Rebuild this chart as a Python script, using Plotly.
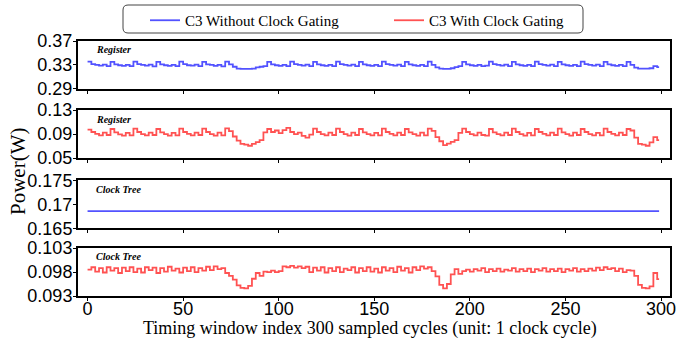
import plotly.graph_objects as go

# ---------------- data ----------------
sample_index = list(range(0, 300, 2))  # sampled cycles (every 2nd)
end_index = 299

register_no_gating = [
    0.3355, 0.3315, 0.3300, 0.3290, 0.3305, 0.3280, 0.3350, 0.3310, 0.3295, 0.3285,
    0.3300, 0.3280, 0.3355, 0.3315, 0.3300, 0.3290, 0.3305, 0.3275, 0.3350, 0.3310,
    0.3295, 0.3285, 0.3300, 0.3280, 0.3355, 0.3315, 0.3295, 0.3290, 0.3305, 0.3280,
    0.3350, 0.3310, 0.3300, 0.3285, 0.3300, 0.3275, 0.3355, 0.3310, 0.3270, 0.3240,
    0.3235, 0.3235, 0.3235, 0.3240, 0.3260, 0.3270, 0.3280, 0.3350, 0.3310, 0.3295,
    0.3285, 0.3300, 0.3280, 0.3355, 0.3315, 0.3300, 0.3290, 0.3305, 0.3280, 0.3350,
    0.3310, 0.3295, 0.3285, 0.3300, 0.3280, 0.3355, 0.3315, 0.3300, 0.3290, 0.3305,
    0.3280, 0.3350, 0.3310, 0.3295, 0.3285, 0.3300, 0.3280, 0.3355, 0.3315, 0.3300,
    0.3290, 0.3305, 0.3280, 0.3350, 0.3310, 0.3295, 0.3285, 0.3300, 0.3280, 0.3355,
    0.3300, 0.3260, 0.3240, 0.3235, 0.3235, 0.3245, 0.3265, 0.3280, 0.3350, 0.3310,
    0.3295, 0.3285, 0.3300, 0.3280, 0.3290, 0.3355, 0.3315, 0.3300, 0.3290, 0.3305,
    0.3280, 0.3350, 0.3310, 0.3295, 0.3285, 0.3300, 0.3280, 0.3355, 0.3315, 0.3300,
    0.3290, 0.3305, 0.3280, 0.3350, 0.3310, 0.3295, 0.3285, 0.3300, 0.3280, 0.3355,
    0.3315, 0.3300, 0.3290, 0.3305, 0.3280, 0.3350, 0.3310, 0.3295, 0.3285, 0.3300,
    0.3280, 0.3350, 0.3300, 0.3255, 0.3240, 0.3240, 0.3240, 0.3245, 0.3280, 0.3265,
]

register_gating = [
    0.0975, 0.0935, 0.0905, 0.0880, 0.0925, 0.0885, 0.0985, 0.0930, 0.0895, 0.0875,
    0.0920, 0.0880, 0.0990, 0.0935, 0.0900, 0.0880, 0.0925, 0.0885, 0.0985, 0.0930,
    0.0900, 0.0875, 0.0920, 0.0880, 0.0990, 0.0935, 0.0905, 0.0880, 0.0925, 0.0885,
    0.0990, 0.0935, 0.0900, 0.0875, 0.0925, 0.0880, 0.0995, 0.0950, 0.0860, 0.0790,
    0.0735, 0.0725, 0.0705, 0.0735, 0.0765, 0.0800, 0.0930, 0.0985, 0.0935, 0.0960,
    0.0915, 0.0965, 0.1005, 0.0935, 0.0900, 0.0925, 0.0870, 0.0840, 0.0890, 0.0990,
    0.0935, 0.0900, 0.0880, 0.0925, 0.0885, 0.0990, 0.0935, 0.0900, 0.0875, 0.0925,
    0.0885, 0.0985, 0.0930, 0.0900, 0.0880, 0.0920, 0.0880, 0.0990, 0.0935, 0.0905,
    0.0880, 0.0925, 0.0885, 0.0985, 0.0930, 0.0900, 0.0875, 0.0925, 0.0880, 0.0990,
    0.0955, 0.0850, 0.0780, 0.0715, 0.0740, 0.0770, 0.0800, 0.0920, 0.0990, 0.0935,
    0.0900, 0.0880, 0.0925, 0.0885, 0.0875, 0.0985, 0.0930, 0.0900, 0.0880, 0.0925,
    0.0885, 0.0990, 0.0935, 0.0900, 0.0875, 0.0920, 0.0880, 0.0985, 0.0935, 0.0905,
    0.0880, 0.0925, 0.0885, 0.0990, 0.0930, 0.0900, 0.0875, 0.0925, 0.0885, 0.0985,
    0.0935, 0.0900, 0.0880, 0.0920, 0.0880, 0.0990, 0.0935, 0.0905, 0.0880, 0.0925,
    0.0885, 0.0985, 0.0960, 0.0840, 0.0735, 0.0725, 0.0705, 0.0760, 0.0850, 0.0800,
]

clock_tree_no_gating_level = 0.1686

clock_tree_gating = [
    0.0985, 0.0990, 0.0981, 0.0988, 0.0979, 0.0990, 0.0983, 0.0988, 0.0978, 0.0989,
    0.0982, 0.0990, 0.0980, 0.0987, 0.0979, 0.0990, 0.0984, 0.0989, 0.0978, 0.0988,
    0.0981, 0.0991, 0.0983, 0.0987, 0.0979, 0.0989, 0.0982, 0.0990, 0.0980, 0.0988,
    0.0983, 0.0991, 0.0984, 0.0992, 0.0986, 0.0988, 0.0978, 0.0972, 0.0964, 0.0952,
    0.0947, 0.0946, 0.0951, 0.0966, 0.0978, 0.0972, 0.0981, 0.0980, 0.0983, 0.0980,
    0.0982, 0.0992, 0.0990, 0.0993, 0.0989, 0.0992, 0.0988, 0.0991, 0.0980, 0.0989,
    0.0983, 0.0990, 0.0979, 0.0988, 0.0982, 0.0990, 0.0980, 0.0987, 0.0984, 0.0990,
    0.0979, 0.0988, 0.0982, 0.0990, 0.0981, 0.0987, 0.0979, 0.0990, 0.0983, 0.0988,
    0.0980, 0.0991, 0.0983, 0.0988, 0.0979, 0.0990, 0.0984, 0.0992, 0.0987, 0.0990,
    0.0982, 0.0971, 0.0953, 0.0946, 0.0955, 0.0975, 0.0986, 0.0976, 0.0982, 0.0985,
    0.0981, 0.0986, 0.0983, 0.0988, 0.0980, 0.0986, 0.0982, 0.0987, 0.0981, 0.0985,
    0.0983, 0.0988, 0.0981, 0.0986, 0.0982, 0.0987, 0.0980, 0.0986, 0.0983, 0.0988,
    0.0981, 0.0986, 0.0982, 0.0987, 0.0980, 0.0986, 0.0983, 0.0988, 0.0981, 0.0986,
    0.0982, 0.0987, 0.0983, 0.0989, 0.0984, 0.0990, 0.0986, 0.0988, 0.0982, 0.0987,
    0.0980, 0.0984, 0.0983, 0.0972, 0.0953, 0.0947, 0.0946, 0.0950, 0.0978, 0.0965,
]

x_ticks = [0, 50, 100, 150, 200, 250, 300]
panel_labels = ["Register", "Register", "Clock Tree", "Clock Tree"]
y_ranges = [[0.29, 0.37], [0.05, 0.13], [0.165, 0.175], [0.093, 0.103]]
y_tickvals = [[0.29, 0.33, 0.37], [0.05, 0.09, 0.13], [0.165, 0.17, 0.175], [0.093, 0.098, 0.103]]
y_ticktext = [["0.29", "0.33", "0.37"], ["0.05", "0.09", "0.13"],
              ["0.165", "0.17", "0.175"], ["0.093", "0.098", "0.103"]]
legend_names = ["C3 Without Clock Gating", "C3 With Clock Gating"]

# ---------------- figure ----------------
BLUE = "rgba(0,0,255,0.68)"
RED = "rgba(255,0,0,0.68)"
SERIF = "Liberation Serif, Times New Roman, serif"
SANS = "Liberation Sans, Arial, sans-serif"

W, H = 688, 341
ML, MR, MT, MB = 78, 18, 41, 45
PW, PH = W - ML - MR, H - MT - MB

series = [
    (register_no_gating, BLUE, legend_names[0], True),
    (register_gating, RED, legend_names[1], True),
    ([clock_tree_no_gating_level] * len(sample_index), BLUE, legend_names[0], False),
    (clock_tree_gating, RED, legend_names[1], False),
]

fig = go.Figure()
for i, (vals, col, name, show) in enumerate(series):
    ax = "" if i == 0 else str(i + 1)
    fig.add_trace(go.Scatter(
        x=sample_index + [end_index], y=vals + [vals[-1]],
        mode="lines", line=dict(color=col, width=1.8, shape="hv"),
        name=name, showlegend=show,
        xaxis="x" + ax, yaxis="y" + ax,
    ))

domains = [[0.812, 1.0], [0.541, 0.729], [0.265, 0.453], [0.0, 0.188]]
layout = dict(
    width=W, height=H,
    margin=dict(l=ML, r=MR, t=MT, b=MB),
    paper_bgcolor="white", plot_bgcolor="white",
    showlegend=True,
    legend=dict(
        orientation="h", xref="container", yref="container",
        x=145 / W, xanchor="left", y=1 - 4 / H, yanchor="top",
        borderwidth=0, bgcolor="rgba(0,0,0,0)",
        font=dict(family=SERIF, size=15, color="black"),
        entrywidth=199,
    ),
)
for i in range(4):
    ax = "" if i == 0 else str(i + 1)
    layout["xaxis" + ax] = dict(
        domain=[0, 1], anchor="y" + ax, range=[-5.0, 304.7], automargin=False,
        tickvals=x_ticks, showticklabels=(i == 3),
        ticks="outside", ticklen=3, tickwidth=1, tickcolor="black",
        ticklabelstandoff=-8,
        showline=True, linecolor="black", linewidth=2, mirror=True,
        showgrid=False, zeroline=False,
        tickfont=dict(family=SANS, size=18, color="black"),
    )
    layout["yaxis" + ax] = dict(
        domain=domains[i], anchor="x" + ax, range=y_ranges[i], automargin=False,
        tickvals=y_tickvals[i], ticktext=y_ticktext[i],
        ticks="outside", ticklen=3, tickwidth=1, tickcolor="black",
        ticklabelstandoff=-3,
        showline=True, linecolor="black", linewidth=2, mirror=True,
        showgrid=False, zeroline=False,
        tickfont=dict(family=SANS, size=18, color="black"),
    )
fig.update_layout(**layout)

# rounded legend frame (decoration)
def px_to_paper(px, py):
    return (px - ML) / PW, (H - MB - py) / PH

x0, y0 = px_to_paper(123, 33)
x1, y1 = px_to_paper(583, 5)
rx, ry = 5 / PW, 5 / PH
path = (f"M{x0+rx},{y0} L{x1-rx},{y0} Q{x1},{y0} {x1},{y0+ry} "
        f"L{x1},{y1-ry} Q{x1},{y1} {x1-rx},{y1} L{x0+rx},{y1} Q{x0},{y1} {x0},{y1-ry} "
        f"L{x0},{y0+ry} Q{x0},{y0} {x0+rx},{y0} Z")
fig.add_shape(type="path", path=path, xref="paper", yref="paper",
              line=dict(color="#444", width=1), fillcolor="rgba(0,0,0,0)", layer="above")

for i, lab in enumerate(panel_labels):
    ax = "" if i == 0 else str(i + 1)
    fig.add_annotation(
        text="<b><i>%s</i></b>" % lab, xref="x%s domain" % ax, yref="y%s domain" % ax,
        x=0.027, y=0.97, xanchor="left", yanchor="top", showarrow=False,
        font=dict(family=SERIF, size=10, color="black"),
    )

fig.add_annotation(
    text="Power(W)", xref="paper", yref="paper", x=(18 - ML) / PW, y=px_to_paper(0, 172)[1],
    xanchor="center", yanchor="middle", textangle=-90, showarrow=False,
    font=dict(family=SERIF, size=21, color="black"),
)
fig.add_annotation(
    text="Timing window index 300 sampled cycles (unit: 1 clock cycle)",
    xref="paper", yref="paper", x=px_to_paper(370, 0)[0], y=px_to_paper(0, 328)[1],
    xanchor="center", yanchor="middle", showarrow=False,
    font=dict(family=SERIF, size=18, color="black"),
)

fig.write_html(
    "out.html",
    config={"displayModeBar": False},
    post_script="document.body.style.margin='0';document.body.style.overflow='hidden';",
)
